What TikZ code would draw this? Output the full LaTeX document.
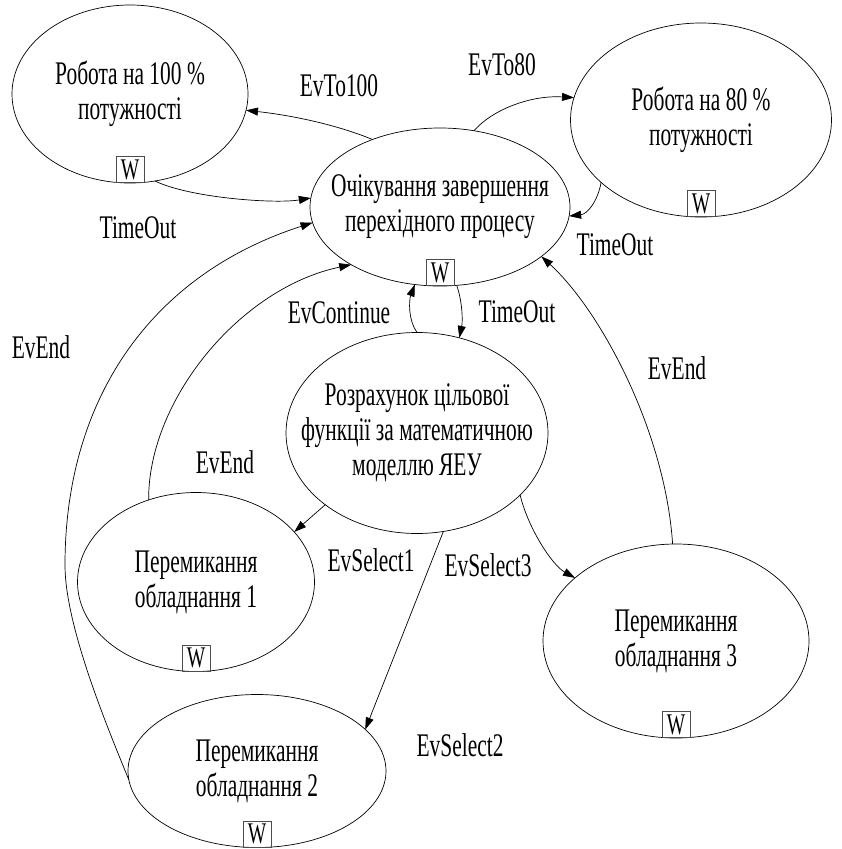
\documentclass[tikz,border=0pt]{standalone}
\usepackage{fontspec}
\setmainfont{Liberation Serif}[FakeStretch=0.65]
\usetikzlibrary{arrows.meta,shapes.geometric}

\begin{document}
\begin{tikzpicture}[x=1pt,y=-1pt,
		state/.style={ellipse,draw,line width=0.7pt,inner xsep=-40pt,inner ysep=0pt,outer sep=0pt,align=center,font=\fontsize{33}{35}\selectfont},
		wbox/.style={draw=black!70,line width=0.6pt,minimum width=28pt,minimum height=26pt,inner sep=0pt,anchor=south,font=\fontsize{30}{30}\selectfont},
		lbl/.style={inner sep=0pt,font=\fontsize{33}{35}\selectfont},
		tr/.style={line width=0.7pt,-{Triangle[length=12pt,width=8pt]}}]
			
			\useasboundingbox (0,0) rectangle (841,849);
			
			% states
			\node[state,minimum width=236pt,minimum height=178pt] (w100) at (130,94) {Робота на 100 \%\\потужності};
			\node[state,minimum width=260pt,minimum height=158pt] (wait) at (440,207) {Очікування завершення\\перехідного процесу};
			\node[state,minimum width=261pt,minimum height=194pt] (w80) at (701,120) {Робота на 80 \%\\потужності};
			\node[state,minimum width=262pt,minimum height=201pt] (calc) at (417,433) {Розрахунок цільової\\функції за математичною\\моделлю ЯЕУ};
			\node[state,minimum width=237pt,minimum height=179pt] (sw1) at (196,582) {Перемикання\\обладнання 1};
			\node[state,minimum width=266pt,minimum height=194pt] (sw3) at (676,641) {Перемикання\\обладнання 3};
			\node[state,minimum width=258pt,minimum height=153pt] (sw2) at (257,771) {Перемикання\\обладнання 2};
			
			\node[wbox] (w100w) at (w100.south) {W};
			\node[wbox] (waitw) at (wait.south) {W};
			\node[wbox] (w80w) at (w80.south) {W};
			\node[wbox] (sw1w) at (sw1.south) {W};
			\node[wbox] (sw3w) at (sw3.south) {W};
			\node[wbox] (sw2w) at (sw2.south) {W};
			
			% transitions
			\draw[tr] (wait.135) .. controls (335,124) and (289,115) .. (w100.352);
			\draw[tr] (w100.286) .. controls (190,198) and (275,204) .. (wait.176);
			\draw[tr] (wait.66) .. controls (492,110) and (530,95) .. (w80.170);
			\draw[tr] (w80.212) .. controls (598,200) and (588,214) .. (wait.356);
			\draw[tr] (sw3.92) .. controls (665,430) and (600,310) .. (wait.334);
			\draw[tr] (sw1.120) .. controls (148,400) and (240,288) .. (wait.213);
			\draw[tr] (sw2.184) .. controls (106,724) and (65,625) .. (65,565) .. controls (65,400) and (150,275) .. (wait.187);
			\draw[tr] (calc.90) .. controls (408,320) and (409,300) .. (wait.252);
			\draw[tr] (wait.282) .. controls (462,300) and (463,320) .. (calc.66);
			\draw[tr] (calc.218) -- (sw1.27);
			\draw[tr] (calc.285) -- (sw2.21);
			\draw[tr] (calc.329) .. controls (528,528) and (552,565) .. (sw3.148);
			
			% labels
			\node[lbl] (lto100) at (339,86) {EvTo100};
			\node[lbl] (lto80) at (502,65) {EvTo80};
			\node[lbl] (ltime1) at (138,228) {TimeOut};
			\node[lbl] (ltime2) at (615,245) {TimeOut};
			\node[lbl] (ltime3) at (517,312) {TimeOut};
			\node[lbl] (lcont) at (339,313) {EvContinue};
			\node[lbl] (lend1) at (41,347) {EvEnd};
			\node[lbl] (lend2) at (225,462) {EvEnd};
			\node[lbl] (lend3) at (677,368) {EvEnd};
			\node[lbl] (lsel1) at (371,560) {EvSelect1};
			\node[lbl] (lsel3) at (488,565) {EvSelect3};
			\node[lbl] (lsel2) at (460,745) {EvSelect2};
			
		\end{tikzpicture}
\end{document}
